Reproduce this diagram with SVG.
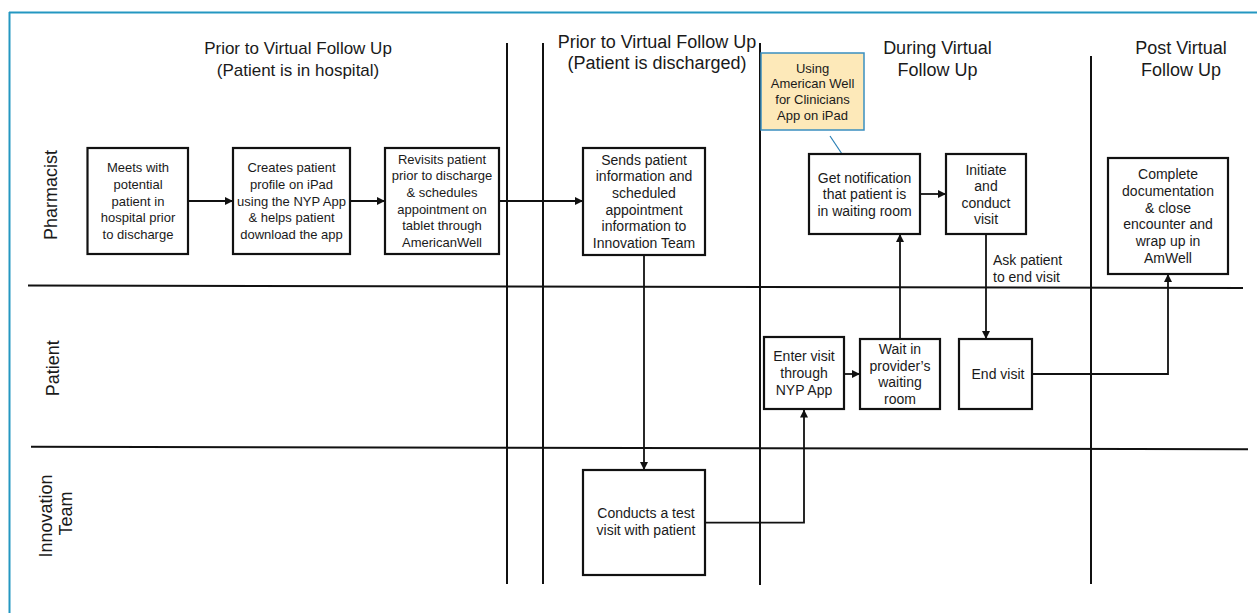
<svg xmlns="http://www.w3.org/2000/svg" width="1257" height="613" viewBox="0 0 1257 613">
<style>
text{font-family:"Liberation Sans",Arial,sans-serif;fill:#1a1a1a}
.h{font-size:18px;text-anchor:middle}
.h1{font-size:17px;text-anchor:middle}
.lane{font-size:18px;text-anchor:middle}
.t13{font-size:13px;text-anchor:middle}
.t14{font-size:14px;text-anchor:middle}
.lbl{font-size:14px}
.box{fill:#fff;stroke:#111;stroke-width:2.2}
.note{fill:#fde9b9;stroke:#3a8fc0;stroke-width:1.5}
.ln{stroke:#111;stroke-width:2;fill:none}
.c{stroke:#111;stroke-width:1.8;fill:none;marker-end:url(#ah)}
</style>
<defs>
<marker id="ah" markerWidth="10" markerHeight="10" refX="8" refY="4" orient="auto" markerUnits="userSpaceOnUse">
<path d="M0,0 L8,4 L0,8 Z" fill="#111"/>
</marker>
</defs>
<rect width="1257" height="613" fill="#fff"/>
<g id="frame">
<line x1="9.5" y1="12" x2="9.5" y2="613" stroke="#2497c1" stroke-width="2"/>
<line x1="9" y1="12.5" x2="1257" y2="12.5" stroke="#2497c1" stroke-width="2"/>
</g>
<g id="lanes">
<line class="ln" x1="28" y1="285.5" x2="1243" y2="288"/>
<line class="ln" x1="31" y1="446.7" x2="1248" y2="449.3"/>
<line class="ln" x1="507" y1="43" x2="507" y2="584"/>
<line class="ln" x1="543" y1="43" x2="543" y2="584"/>
<line class="ln" x1="760" y1="43" x2="760" y2="585"/>
<line class="ln" x1="1091" y1="56" x2="1091" y2="584"/>
</g>
<g id="headers">
<text class="h1" x="298" y="54">Prior to Virtual Follow Up</text>
<text class="h1" x="298" y="76">(Patient is in hospital)</text>
<text class="h" x="657" y="48">Prior to Virtual Follow Up</text>
<text class="h" x="657" y="69">(Patient is discharged)</text>
<text class="h" x="937.5" y="54">During Virtual</text>
<text class="h" x="937.5" y="76">Follow Up</text>
<text class="h" x="1181" y="54">Post Virtual</text>
<text class="h" x="1181" y="76">Follow Up</text>
<text class="lane" transform="translate(57.3,195) rotate(-90)">Pharmacist</text>
<text class="lane" transform="translate(59.3,368.3) rotate(-90)">Patient</text>
<text class="lane" transform="translate(51.7,516) rotate(-90)">Innovation</text>
<text class="lane" transform="translate(71.7,513.5) rotate(-90)">Team</text>
</g>
<g id="connectors">
<line class="c" x1="188" y1="201" x2="233" y2="201"/>
<line class="c" x1="350" y1="201" x2="385" y2="201"/>
<line class="c" x1="499" y1="201" x2="583" y2="201"/>
<line class="c" x1="644" y1="255" x2="644" y2="470"/>
<polyline class="c" points="705,522.7 804,522.7 804,409.5"/>
<line class="c" x1="844" y1="374" x2="860" y2="374"/>
<line class="c" x1="900" y1="339" x2="900" y2="234"/>
<line class="c" x1="920" y1="194" x2="946" y2="194"/>
<line class="c" x1="986" y1="234" x2="986" y2="339"/>
<polyline class="c" points="1032,374 1168,374 1168,274"/>
<line x1="830" y1="136" x2="850" y2="166" stroke="#2a7fb5" stroke-width="1.2"/>
<text class="lbl" x="993" y="265">Ask patient</text>
<text class="lbl" x="993" y="282">to end visit</text>
</g>
<g id="n1">
<rect class="box" x="87.5" y="148" width="100.5" height="106"/>
<text class="t13" x="138" y="172">Meets with</text>
<text class="t13" x="138" y="188.8">potential</text>
<text class="t13" x="138" y="205.6">patient in</text>
<text class="t13" x="138" y="222.4">hospital prior</text>
<text class="t13" x="138" y="239.2">to discharge</text>
</g>
<g id="n2">
<rect class="box" x="233" y="148" width="117" height="106"/>
<text class="t13" x="291.5" y="172">Creates patient</text>
<text class="t13" x="291.5" y="188.8">profile on iPad</text>
<text class="t13" x="291.5" y="205.6">using the NYP App</text>
<text class="t13" x="291.5" y="222.4">&amp; helps patient</text>
<text class="t13" x="291.5" y="239.2">download the app</text>
</g>
<g id="n3">
<rect class="box" x="385" y="148" width="114" height="106"/>
<text class="t13" x="442" y="163.5">Revisits patient</text>
<text class="t13" x="442" y="180.2">prior to discharge</text>
<text class="t13" x="442" y="196.9">&amp; schedules</text>
<text class="t13" x="442" y="213.6">appointment on</text>
<text class="t13" x="442" y="230.3">tablet through</text>
<text class="t13" x="442" y="247">AmericanWell</text>
</g>
<g id="n4">
<rect class="box" x="583" y="148" width="122" height="107"/>
<text class="t14" x="644" y="164.5">Sends patient</text>
<text class="t14" x="644" y="181.2">information and</text>
<text class="t14" x="644" y="197.9">scheduled</text>
<text class="t14" x="644" y="214.6">appointment</text>
<text class="t14" x="644" y="231.3">information to</text>
<text class="t14" x="644" y="248">Innovation Team</text>
</g>
<g id="note">
<rect class="note" x="761" y="53" width="103" height="77"/>
<text class="t13" x="812.5" y="72.7">Using</text>
<text class="t13" x="812.5" y="88.3">American Well</text>
<text class="t13" x="812.5" y="103.9">for Clinicians</text>
<text class="t13" x="812.5" y="119.5">App on iPad</text>
</g>
<g id="n5">
<rect class="box" x="809" y="154" width="111" height="80"/>
<text class="t14" x="864.5" y="182.7">Get notification</text>
<text class="t14" x="864.5" y="199.4">that patient is</text>
<text class="t14" x="864.5" y="216.1">in waiting room</text>
</g>
<g id="n6">
<rect class="box" x="946" y="154" width="80" height="80"/>
<text class="t14" x="986" y="175">Initiate</text>
<text class="t14" x="986" y="191.3">and</text>
<text class="t14" x="986" y="207.6">conduct</text>
<text class="t14" x="986" y="224">visit</text>
</g>
<g id="n7">
<rect class="box" x="1108" y="158" width="120" height="116"/>
<text class="t14" x="1168" y="179.3">Complete</text>
<text class="t14" x="1168" y="196">documentation</text>
<text class="t14" x="1168" y="212.7">&amp; close</text>
<text class="t14" x="1168" y="229.4">encounter and</text>
<text class="t14" x="1168" y="246.1">wrap up in</text>
<text class="t14" x="1168" y="262.8">AmWell</text>
</g>
<g id="n8">
<rect class="box" x="764" y="337" width="80" height="72"/>
<text class="t14" x="804" y="361">Enter visit</text>
<text class="t14" x="804" y="377.8">through</text>
<text class="t14" x="804" y="394.6">NYP App</text>
</g>
<g id="n9">
<rect class="box" x="860" y="339" width="80" height="70"/>
<text class="t14" x="900" y="354">Wait in</text>
<text class="t14" x="900" y="370.5">provider’s</text>
<text class="t14" x="900" y="387">waiting</text>
<text class="t14" x="900" y="403.5">room</text>
</g>
<g id="n10">
<rect class="box" x="959" y="339" width="73" height="70"/>
<text class="t14" x="998" y="379">End visit</text>
</g>
<g id="n11">
<rect class="box" x="583" y="470" width="122" height="105"/>
<text class="t14" x="646" y="518.3">Conducts a test</text>
<text class="t14" x="646" y="535">visit with patient</text>
</g>
</svg>
